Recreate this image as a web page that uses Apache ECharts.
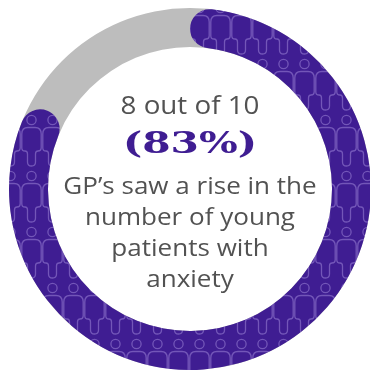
<!DOCTYPE html>
<html>
<head>
<meta charset="utf-8">
<script src="https://cdn.jsdelivr.net/npm/echarts@6/dist/echarts.min.js"></script>
<style>
  html, body { margin: 0; padding: 0; background: #ffffff; }
  #chart { width: 370px; height: 372px; }
</style>
</head>
<body>
<div id="chart"></div>
<script>
// Share of GPs reporting a rise in young patients with anxiety
const categories = ['Saw a rise', 'Did not'];
const shareValues = [83, 17];
const headline = '8 out of 10';
const percentLabel = '(83%)';
const captionLines = ['GP\u2019s saw a rise in the', 'number of young', 'patients with', 'anxiety'];

const PURPLE = '#3f1d92';
const GREY = '#bdbdbd';
const TEXT = '#525252';

// Repeating tile of outlined figures used as the fill texture of the purple arc
function makePeopleTile() {
  const w = 21, h = 56;
  const c = document.createElement('canvas');
  c.width = w; c.height = h;
  const g = c.getContext('2d');
  g.fillStyle = PURPLE;
  g.fillRect(0, 0, w, h);
  g.strokeStyle = 'rgba(150,125,210,0.6)';
  g.lineWidth = 1.3;
  const cx = w / 2;
  // head
  g.beginPath();
  g.arc(cx, 8, 4.6, 0, Math.PI * 2);
  g.stroke();
  // shoulders, torso and narrow lower body
  g.beginPath();
  g.moveTo(0.8, 36);
  g.lineTo(0.8, 22);
  g.quadraticCurveTo(0.8, 15.5, 7, 15.5);
  g.lineTo(14, 15.5);
  g.quadraticCurveTo(20.2, 15.5, 20.2, 22);
  g.lineTo(20.2, 36);
  g.quadraticCurveTo(20.2, 39, 17, 39);
  g.quadraticCurveTo(14.5, 39, 14.5, 42);
  g.lineTo(14.5, 50);
  g.quadraticCurveTo(14.5, 54, 10.5, 54);
  g.quadraticCurveTo(6.5, 54, 6.5, 50);
  g.lineTo(6.5, 42);
  g.quadraticCurveTo(6.5, 39, 4, 39);
  g.quadraticCurveTo(0.8, 39, 0.8, 36);
  g.stroke();
  return c;
}

const chart = echarts.init(document.getElementById('chart'), null, { renderer: 'canvas' });
const center = [190, 189];
const radius = [142, 181];
const textX = 190;

function textLine(text, y, font, fill, sx) {
  return {
    type: 'text', x: textX, y: y, scaleX: sx, silent: true,
    style: { text: text, fill: fill, font: font, textAlign: 'center', textVerticalAlign: 'top' }
  };
}

const option = {
  animation: false,
  series: [
    {
      // full grey track underneath
      type: 'pie',
      silent: true,
      center: center,
      radius: radius,
      label: { show: false },
      labelLine: { show: false },
      itemStyle: { color: GREY, borderWidth: 0 },
      data: [{ name: 'track', value: 1 }]
    },
    {
      type: 'pie',
      silent: true,
      center: center,
      radius: radius,
      startAngle: 90,
      clockwise: true,
      label: { show: false },
      labelLine: { show: false },
      data: [
        {
          name: categories[0],
          value: shareValues[0],
          itemStyle: {
            color: { image: makePeopleTile(), repeat: 'repeat' },
            borderRadius: 20,
            borderWidth: 0
          }
        },
        {
          name: categories[1],
          value: shareValues[1],
          itemStyle: { color: 'rgba(0,0,0,0)', borderWidth: 0 }
        }
      ]
    }
  ],
  graphic: [
    textLine(headline, 94, '400 25px "Open Sans"', TEXT, 1.11),
    textLine(percentLabel, 130, 'bold 30px "DejaVu Serif"', PURPLE, 1.36)
  ].concat(captionLines.map((line, i) =>
    textLine(line, 175 + i * 31, '400 24px "Open Sans"', TEXT, 1.085)
  ))
};

chart.setOption(option);
</script>
</body>
</html>
